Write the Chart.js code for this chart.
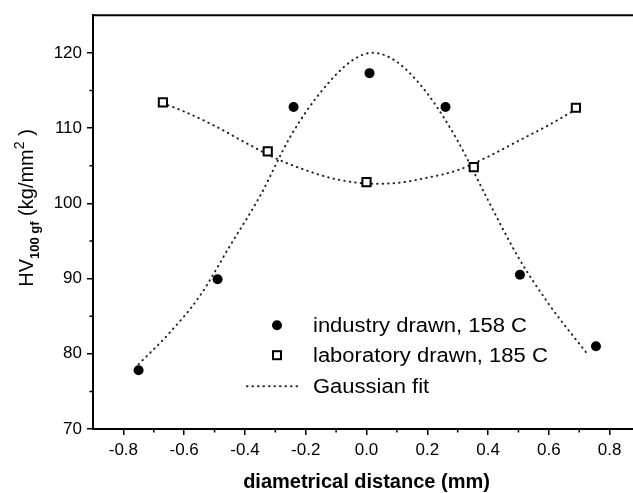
<!DOCTYPE html>
<html>
<head>
    <meta charset="utf-8">
    <title>HV100gf vs diametrical distance</title>
    <script src="https://cdn.jsdelivr.net/npm/chart.js"></script>
    <style>
        body { margin: 0; overflow: hidden; background: #fff; }
    </style>
</head>
<body>
    <canvas id="hvchart" width="650" height="493"></canvas>

    <script>
        // measured hardness, industry drawn wire (158 C)
        const industryX = [-0.75, -0.49, -0.24, 0.01, 0.26, 0.505, 0.755];
        const industryY = [77.8, 89.9, 112.8, 117.3, 112.8, 90.5, 81.0];

        // measured hardness, laboratory drawn wire (185 C)
        const labX = [-0.67, -0.325, 0.0, 0.353, 0.689];
        const labY = [113.4, 106.9, 102.8, 104.8, 112.7];

        // gaussian fit curves
        const fitIndustryX = [-0.75, -0.65, -0.55, -0.45, -0.35, -0.25, -0.15, -0.05, 0.02, 0.1, 0.2, 0.3, 0.4, 0.5, 0.6, 0.73];
        const fitIndustryY = [78.6, 82.7, 87.6, 94.3, 101.0, 108.9, 114.8, 118.9, 120.0, 118.8, 114.6, 108.3, 100.4, 92.8, 86.6, 79.8];
        const fitLabX = [-0.67, -0.6, -0.5, -0.4, -0.3, -0.2, -0.1, 0.03, 0.1, 0.2, 0.3, 0.4, 0.5, 0.6, 0.69];
        const fitLabY = [113.3, 112.2, 110.3, 108.1, 106.0, 104.4, 103.2, 102.6, 102.7, 103.4, 104.4, 106.2, 108.3, 110.4, 112.5];

        // axes
        const xTicks = [-0.8, -0.6, -0.4, -0.2, 0.0, 0.2, 0.4, 0.6, 0.8];
        const xMinor = [-0.7, -0.5, -0.3, -0.1, 0.1, 0.3, 0.5, 0.7];
        const yTicks = [70, 80, 90, 100, 110, 120];
        const yMinor = [75, 85, 95, 105, 115];

        const legendLabels = ['industry drawn, 158 C', 'laboratory drawn, 185 C', 'Gaussian fit'];

        const FONT = '"Liberation Sans", Arial, Helvetica, sans-serif';
        const pts = (xs, ys) => xs.map((x, i) => ({ x: x, y: ys[i] }));

        // minor ticks, top frame line
        const framePlugin = {
            id: 'frame',
            afterDraw(chart) {
                const ctx = chart.ctx;
                const a = chart.chartArea;
                const sx = chart.scales.x, sy = chart.scales.y;
                ctx.save();
                ctx.strokeStyle = '#000';
                ctx.lineWidth = 1.5;
                ctx.beginPath();
                xMinor.forEach(v => {
                    const px = sx.getPixelForValue(v);
                    ctx.moveTo(px, a.bottom);
                    ctx.lineTo(px, a.bottom + 3.5);
                });
                yMinor.forEach(v => {
                    const py = sy.getPixelForValue(v);
                    ctx.moveTo(a.left, py);
                    ctx.lineTo(a.left - 3.5, py);
                });
                ctx.stroke();
                ctx.lineWidth = 2;
                ctx.beginPath();
                ctx.moveTo(a.left - 1, a.top);
                ctx.lineTo(a.right, a.top);
                ctx.stroke();
                ctx.restore();
            }
        };

        // y title with subscript and superscript
        const yTitlePlugin = {
            id: 'yTitle',
            afterDraw(chart) {
                const ctx = chart.ctx;
                const parts = [
                    { t: 'HV', f: '20px ' + FONT, dy: 0 },
                    { t: '100 gf', f: 'bold 13px ' + FONT, dy: 6 },
                    { t: ' (kg/mm', f: '20px ' + FONT, dy: 0 },
                    { t: '2', f: '14px ' + FONT, dy: -9 },
                    { t: ' )', f: '20px ' + FONT, dy: 0 }
                ];
                ctx.save();
                let total = 0;
                parts.forEach(p => { ctx.font = p.f; p.w = ctx.measureText(p.t).width; total += p.w; });
                ctx.translate(33, 208);
                ctx.rotate(-Math.PI / 2);
                ctx.fillStyle = '#000';
                ctx.textBaseline = 'alphabetic';
                ctx.textAlign = 'left';
                let x = -total / 2;
                parts.forEach(p => {
                    ctx.font = p.f;
                    ctx.fillText(p.t, x, p.dy);
                    x += p.w;
                });
                ctx.restore();
            }
        };

        // legend inside the plot
        const legendPlugin = {
            id: 'innerLegend',
            afterDraw(chart) {
                const ctx = chart.ctx;
                const a = chart.chartArea;
                const mx = a.left + 184;
                const tx = a.left + 220;
                const rows = [a.top + 310, a.top + 340, a.top + 371];
                ctx.save();
                // filled circle
                ctx.fillStyle = '#000';
                ctx.beginPath();
                ctx.arc(mx, rows[0], 5, 0, Math.PI * 2);
                ctx.fill();
                // open square
                ctx.strokeStyle = '#000';
                ctx.lineWidth = 2;
                ctx.fillStyle = '#fff';
                ctx.fillRect(mx - 4, rows[1] - 4, 8, 8);
                ctx.strokeRect(mx - 4, rows[1] - 4, 8, 8);
                // dotted line
                ctx.strokeStyle = '#222';
                ctx.lineWidth = 2;
                ctx.lineCap = 'round';
                ctx.setLineDash([0.5, 5]);
                ctx.beginPath();
                ctx.moveTo(mx - 30, rows[2]);
                ctx.lineTo(mx + 25, rows[2]);
                ctx.stroke();
                ctx.setLineDash([]);
                // texts
                ctx.fillStyle = '#000';
                ctx.font = '20px ' + FONT;
                ctx.textBaseline = 'middle';
                legendLabels.forEach((lbl, i) => {
                    ctx.save();
                    ctx.translate(tx, rows[i]);
                    ctx.scale(1.1, 1);
                    ctx.fillText(lbl, 0, 1);
                    ctx.restore();
                });
                ctx.restore();
            }
        };

        const dotted = {
            showLine: true,
            borderColor: '#222',
            borderWidth: 2,
            borderDash: [0.5, 5],
            borderCapStyle: 'round',
            pointRadius: 0,
            cubicInterpolationMode: 'monotone',
            fill: false
        };

        const ctx = document.getElementById('hvchart').getContext('2d');
        const hvChart = new Chart(ctx, {
            type: 'scatter',
            data: {
                datasets: [
                    {
                        label: legendLabels[0],
                        data: pts(industryX, industryY),
                        pointStyle: 'circle',
                        pointRadius: 5,
                        backgroundColor: '#000',
                        borderColor: '#000',
                        borderWidth: 0,
                        order: 1
                    },
                    {
                        label: legendLabels[1],
                        data: pts(labX, labY),
                        pointStyle: 'rect',
                        pointRadius: 5.8,
                        backgroundColor: '#fff',
                        borderColor: '#000',
                        borderWidth: 2,
                        order: 2
                    },
                    Object.assign({ label: legendLabels[2], data: pts(fitIndustryX, fitIndustryY), order: 3 }, dotted),
                    Object.assign({ label: legendLabels[2], data: pts(fitLabX, fitLabY), order: 4 }, dotted)
                ]
            },
            options: {
                responsive: false,
                animation: false,
                devicePixelRatio: 1,
                layout: { padding: { top: 12, right: 10, left: 0, bottom: 0 } },
                plugins: {
                    legend: { display: false },
                    tooltip: { enabled: false }
                },
                scales: {
                    x: {
                        type: 'linear',
                        min: -0.9,
                        max: 0.9,
                        afterBuildTicks: s => { s.ticks = xTicks.map(v => ({ value: v })); },
                        afterFit: s => { s.height = 64; },
                        grid: { drawOnChartArea: false, color: '#000', lineWidth: 1.5, tickLength: 6 },
                        border: { color: '#000', width: 2 },
                        ticks: {
                            color: '#000',
                            padding: 5,
                            maxRotation: 0,
                            font: { family: FONT, size: 17, lineHeight: 1.2 },
                            callback: v => v.toFixed(1)
                        },
                        title: {
                            display: true,
                            text: 'diametrical distance (mm)',
                            color: '#000',
                            font: { family: FONT, size: 20, weight: 'bold', lineHeight: 1 },
                            padding: { top: 0, bottom: 1 }
                        }
                    },
                    y: {
                        min: 70,
                        max: 125,
                        afterBuildTicks: s => { s.ticks = yTicks.map(v => ({ value: v })); },
                        afterFit: s => { s.width = 93; },
                        grid: { drawOnChartArea: false, color: '#000', lineWidth: 1.5, tickLength: 6 },
                        border: { color: '#000', width: 2 },
                        ticks: {
                            color: '#000',
                            padding: 5,
                            font: { family: FONT, size: 17 },
                            callback: v => String(v)
                        }
                    }
                }
            },
            plugins: [framePlugin, yTitlePlugin, legendPlugin]
        });
    </script>
</body>
</html>
